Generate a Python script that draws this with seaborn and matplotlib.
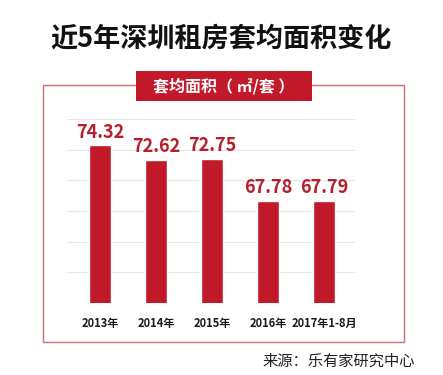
import matplotlib
matplotlib.use('Agg')
import matplotlib.pyplot as plt
from matplotlib.patches import Rectangle
import numpy as np
import pandas as pd
import seaborn as sns

years = ['2013年', '2014年', '2015年', '2016年', '2017年1-8月']
area = [74.32, 72.62, 72.75, 67.78, 67.79]

title = '近5年深圳租房套均面积变化'
box_label = '套均面积（ ㎡/套 ）'
source = '来源：乐有家研究中心'

bar_red = '#c21a2b'
label_red = '#b51f2b'

sns.set_theme(style='white')
plt.rcParams['font.family'] = ['Noto Sans CJK SC', 'DejaVu Sans']

W, H = 443, 375
fig = plt.figure(figsize=(W / 100, H / 100), dpi=100)

# plot area in pixel coords (from the top-left corner)
left, right, top, bottom = 67, 355, 119, 303
ax = fig.add_axes([left / W, 1 - bottom / H, (right - left) / W, (bottom - top) / H])

df = pd.DataFrame({'year': years, 'area': area})
sns.barplot(data=df, x='year', y='area', color=bar_red, width=0.4,
            saturation=1, ax=ax)

ymin, ymax = 55.9, 77.4
ax.set_ylim(ymin, ymax)
ax.set_xlim(-0.59, 4.55)
ax.set_yticks(np.linspace(ymin, ymax, 7))
ax.yaxis.grid(True, color='#e6e6e6', linewidth=0.8)
ax.set_axisbelow(True)
ax.tick_params(axis='y', left=False, labelleft=False)
ax.tick_params(axis='x', bottom=False, pad=4)
for lbl in ax.get_xticklabels():
    lbl.set_fontsize(8)
    lbl.set_fontweight('bold')
    lbl.set_color('#1a1a1a')
ax.set_xlabel('')
ax.set_ylabel('')
for s in ax.spines.values():
    s.set_visible(False)

for i, v in enumerate(area):
    ax.text(i, v + 0.45, f'{v:.2f}', ha='center', va='bottom',
            fontsize=13, fontweight='bold', color=label_red)

# outer frame and the red label box
fig.patches.append(Rectangle((43 / W, 1 - 342 / H), (404 - 43) / W, (342 - 85) / H,
                             transform=fig.transFigure, fill=False,
                             edgecolor='#d06a72', linewidth=1.0))
fig.patches.append(Rectangle((136 / W, 1 - 101 / H), (312 - 136) / W, (101 - 71) / H,
                             transform=fig.transFigure, facecolor=bar_red,
                             edgecolor='none'))
fig.text(224 / W, 1 - 86 / H, box_label, ha='center', va='center',
         fontsize=11.5, fontweight='bold', color='white')

fig.text(221 / W, 1 - 38 / H, title, ha='center', va='center',
         fontsize=19.5, fontweight='bold', color='#111111')
fig.text(415 / W, 1 - 361 / H, source, ha='right', va='center',
         fontsize=11, color='#222222')

fig.savefig('out.png', dpi=100, facecolor='white')
